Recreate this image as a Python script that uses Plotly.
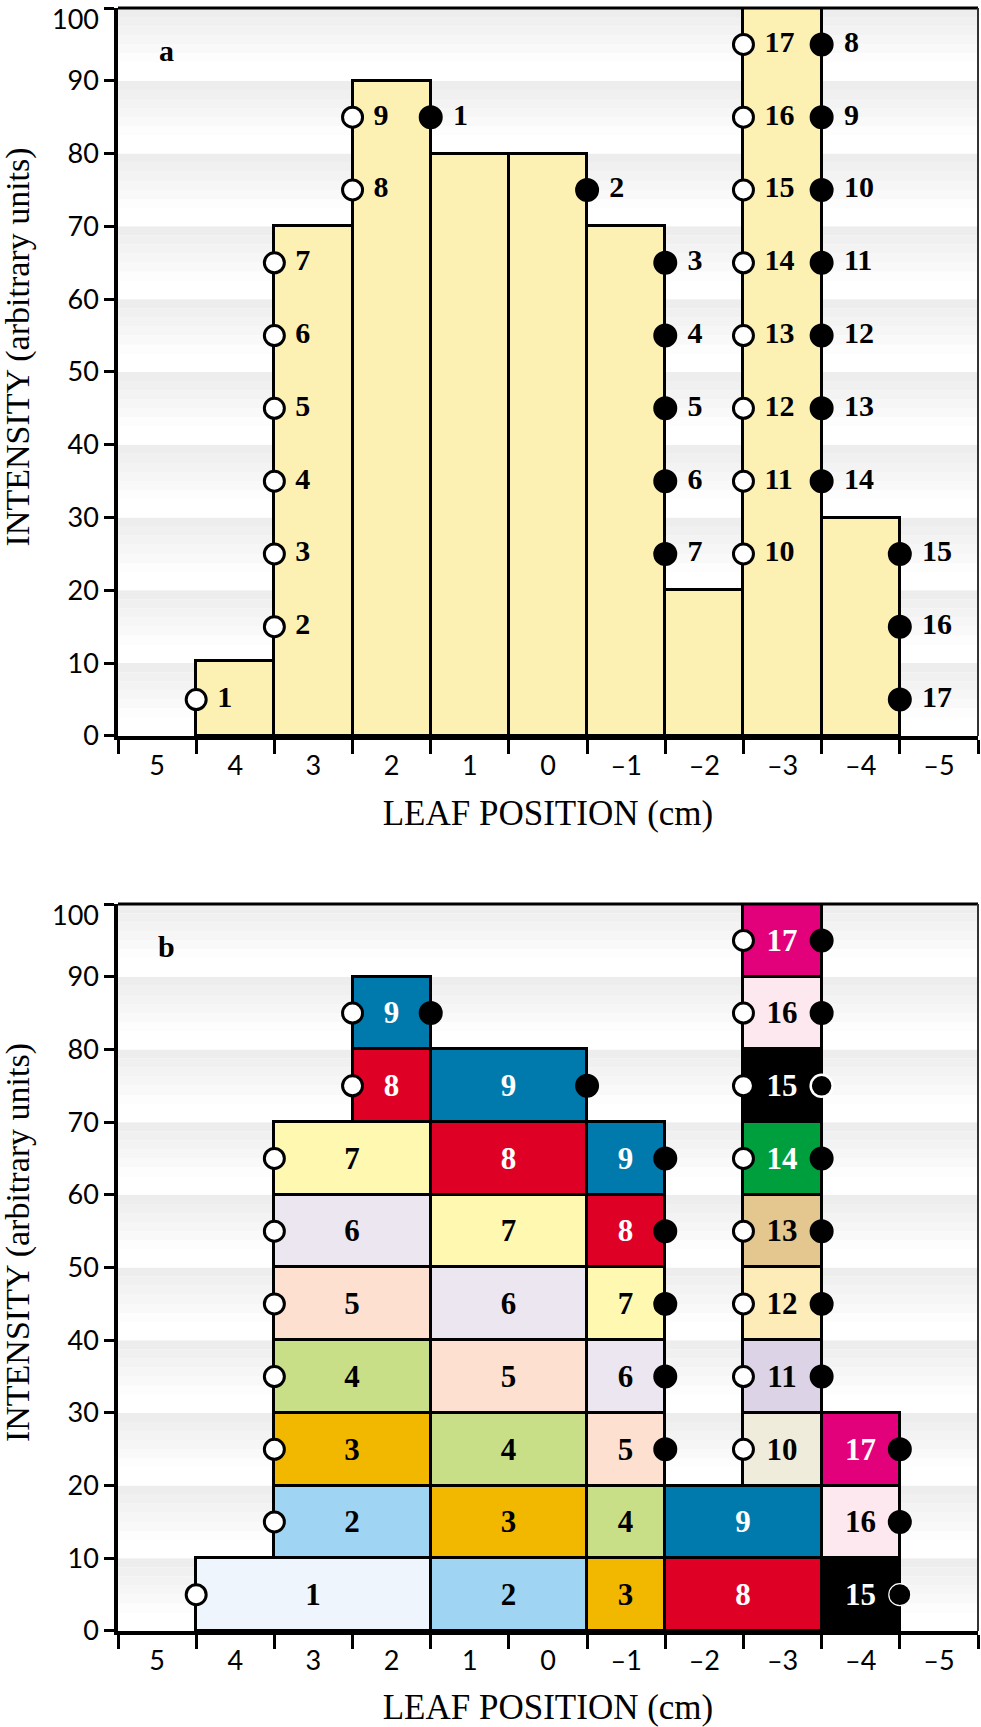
import plotly.graph_objects as go

# leaf positions (cm) and tick labels
positions = [5, 4, 3, 2, 1, 0, -1, -2, -3, -4, -5]
position_text = ["5", "4", "3", "2", "1", "0", "–1", "–2", "–3", "–4", "–5"]
leaf_edges = [5.5, 4.5, 3.5, 2.5, 1.5, 0.5, -0.5, -1.5, -2.5, -3.5, -4.5, -5.5]
intensity_ticks = [0, 10, 20, 30, 40, 50, 60, 70, 80, 90, 100]
intensity_text = ["0", "10", "20", "30", "40", "50", "60", "70", "80", "90", ""]
top_tick = 100

# panel a: intensity profile
profile_pos = [4, 3, 2, 1, 0, -1, -2, -3, -4]
profile_val = [10.3, 70, 90, 80, 80, 70, 20, 100, 30]

# leaf tip positions per segment (open = leading leaf, filled = trailing leaf)
open_x = [4.5, 3.5, 3.5, 3.5, 3.5, 3.5, 3.5, 2.5, 2.5,
          -2.5, -2.5, -2.5, -2.5, -2.5, -2.5, -2.5, -2.5]
open_y = [5, 15, 25, 35, 45, 55, 65, 75, 85, 25, 35, 45, 55, 65, 75, 85, 95]
filled_x = [1.5, -0.5, -1.5, -1.5, -1.5, -1.5, -1.5,
            -3.5, -3.5, -3.5, -3.5, -3.5, -3.5, -3.5, -4.5, -4.5, -4.5]
filled_y = [85, 75, 65, 55, 45, 35, 25, 95, 85, 75, 65, 55, 45, 35, 25, 15, 5]
segment_labels = [str(i) for i in range(1, 18)]

# panel b: segment blocks (left edge, right edge, base, segment number)
block_left = [4.5, 3.5, 3.5, 3.5, 3.5, 3.5, 3.5, 2.5, 2.5,
              1.5, 1.5, 1.5, 1.5, 1.5, 1.5, 1.5, 1.5,
              -0.5, -0.5, -0.5, -0.5, -0.5, -0.5, -0.5,
              -1.5, -1.5,
              -2.5, -2.5, -2.5, -2.5, -2.5, -2.5, -2.5, -2.5,
              -3.5, -3.5, -3.5]
block_right = [1.5, 1.5, 1.5, 1.5, 1.5, 1.5, 1.5, 1.5, 1.5,
               -0.5, -0.5, -0.5, -0.5, -0.5, -0.5, -0.5, -0.5,
               -1.5, -1.5, -1.5, -1.5, -1.5, -1.5, -1.5,
               -3.5, -3.5,
               -3.5, -3.5, -3.5, -3.5, -3.5, -3.5, -3.5, -3.5,
               -4.5, -4.5, -4.5]
block_base = [0, 10, 20, 30, 40, 50, 60, 70, 80,
              0, 10, 20, 30, 40, 50, 60, 70,
              0, 10, 20, 30, 40, 50, 60,
              0, 10,
              20, 30, 40, 50, 60, 70, 80, 90,
              0, 10, 20]
block_seg = [1, 2, 3, 4, 5, 6, 7, 8, 9,
             2, 3, 4, 5, 6, 7, 8, 9,
             3, 4, 5, 6, 7, 8, 9,
             8, 9,
             10, 11, 12, 13, 14, 15, 16, 17,
             15, 16, 17]
block_height = [10] * len(block_seg)

segment_colors = {1: "#eef5fc", 2: "#9fd5f3", 3: "#f2b800", 4: "#c8df88",
                  5: "#fde0d0", 6: "#ece6f1", 7: "#fff8b0", 8: "#df0025",
                  9: "#0079ac", 10: "#efecdb", 11: "#dcd3e7", 12: "#feecb8",
                  13: "#e3c78f", 14: "#009f3e", 15: "#000000", 16: "#fde8ef",
                  17: "#e3007b"}
white_text = [8, 9, 14, 15, 17]

SERIF = "Liberation Serif"
SANS = "Lato"

fig = go.Figure()

# panel a
label_text = ["\u00a0" + s for s in segment_labels]
fig.add_trace(go.Bar(x=profile_pos, y=profile_val, width=1,
                     marker=dict(color="#fdf0b3", line=dict(color="black", width=3)),
                     xaxis="x", yaxis="y", showlegend=False, hoverinfo="skip"))
fig.add_trace(go.Scatter(x=open_x, y=open_y, mode="markers+text", text=label_text,
                         textposition="middle right",
                         textfont=dict(family=SERIF, size=30, color="black", weight="bold"),
                         marker=dict(size=20, color="white", line=dict(color="black", width=3)),
                         xaxis="x", yaxis="y", showlegend=False, cliponaxis=False))
fig.add_trace(go.Scatter(x=filled_x, y=filled_y, mode="markers+text", text=label_text,
                         textposition="middle right",
                         textfont=dict(family=SERIF, size=30, color="black", weight="bold"),
                         marker=dict(size=22, color="black", line=dict(color="black", width=2)),
                         xaxis="x", yaxis="y", showlegend=False, cliponaxis=False))

# panel b
centers = [(l + r) / 2 for l, r in zip(block_left, block_right)]
widths = [abs(l - r) for l, r in zip(block_left, block_right)]
fig.add_trace(go.Bar(x=centers, y=block_height, base=block_base, width=widths,
                     text=[str(s) for s in block_seg], textposition="inside",
                     insidetextanchor="middle", textangle=0, constraintext="none",
                     insidetextfont=dict(family=SERIF, size=31, weight="bold",
                                         color=["white" if s in white_text else "black" for s in block_seg]),
                     marker=dict(color=[segment_colors[s] for s in block_seg],
                                 line=dict(color="black", width=3)),
                     xaxis="x2", yaxis="y2", showlegend=False, hoverinfo="skip"))
fig.add_trace(go.Scatter(x=open_x, y=open_y, mode="markers",
                         marker=dict(size=20, color="white", line=dict(color="black", width=3)),
                         xaxis="x2", yaxis="y2", showlegend=False, cliponaxis=False))
edge_col = ["white" if (x, y) in [(-3.5, 75), (-4.5, 5)] else "black"
            for x, y in zip(filled_x, filled_y)]
edge_w = [2.5 if (x, y) == (-3.5, 75) else 1.2 if (x, y) == (-4.5, 5) else 2
          for x, y in zip(filled_x, filled_y)]
fig.add_trace(go.Scatter(x=filled_x, y=filled_y, mode="markers",
                         marker=dict(size=22, color="black", line=dict(color=edge_col, width=edge_w)),
                         xaxis="x2", yaxis="y2", showlegend=False, cliponaxis=False))

# banded gradient background and thin top/right frame
shapes = []
steps = 8
for xr, yr in [("x domain", "y"), ("x2 domain", "y2")]:
    for band in range(10):
        for s in range(steps):
            g = int(237 + (255 - 237) * min(1, s / (steps * 0.7)))
            top = band * 10 + 10 - s * 10 / steps
            shapes.append(dict(type="rect", xref=xr, yref=yr, x0=0, x1=1,
                               y0=top - 10 / steps, y1=top, layer="below",
                               line=dict(width=0), fillcolor=f"rgb({g},{g},{g})"))
    shapes.append(dict(type="line", xref=xr, yref=yr + " domain",
                       x0=0, x1=1, y0=1, y1=1, line=dict(color="black", width=3)))
    shapes.append(dict(type="line", xref=xr, yref=yr + " domain",
                       x0=1, x1=1, y0=0, y1=1, line=dict(color="#333333", width=2)))

xaxis_common = dict(range=[5.5, -5.5], tickmode="array", tickvals=positions, ticktext=position_text,
                    ticks="outside", ticklen=3, tickcolor="rgba(0,0,0,0)",
                    minor=dict(tickmode="array", tickvals=leaf_edges, ticks="outside",
                               ticklen=14, tickwidth=3, tickcolor="black"),
                    showline=True, linewidth=3.5, linecolor="black", showgrid=False, zeroline=False,
                    automargin=False, ticklabeloverflow="allow",
                    tickfont=dict(family=SANS, size=27, color="black"),
                    title=dict(text="LEAF POSITION (cm)", font=dict(family=SERIF, size=35, color="black"),
                               standoff=21))
yaxis_common = dict(range=[0, 100], tickmode="array", tickvals=intensity_ticks, ticktext=intensity_text,
                    ticks="outside", ticklen=10, tickwidth=3, tickcolor="black",
                    showline=True, linewidth=3.5, linecolor="black", showgrid=False, zeroline=False,
                    automargin=False, ticklabeloverflow="allow",
                    tickfont=dict(family=SANS, size=27, color="black"))

ytitle = "INTENSITY (arbitrary units)"
annotations = []
for xr, yr, letter in [("x", "y", "a"), ("x2", "y2", "b")]:
    annotations.append(dict(x=4.88, y=94.2, xref=xr, yref=yr, text=f"<b>{letter}</b>",
                            showarrow=False, font=dict(family=SERIF, size=30, color="black")))
    annotations.append(dict(x=-0.1163, y=0.535, xref="paper", yref=yr + " domain", text=ytitle,
                            textangle=-90, showarrow=False, xanchor="center", yanchor="middle",
                            font=dict(family=SERIF, size=34, color="black")))
    # top tick label sits a little below its tick, as in the original
    annotations.append(dict(x=-0.021, y=top_tick, xref="paper", yref=yr, text=str(top_tick),
                            showarrow=False, xanchor="right", yanchor="top", yshift=7,
                            borderpad=0, font=dict(family=SANS, size=27, color="black")))

fig.update_layout(
    width=981, height=1727,
    margin=dict(l=118, r=3, t=8, b=96, autoexpand=False),
    paper_bgcolor="white", plot_bgcolor="white",
    barmode="overlay", bargap=0,
    xaxis=dict(xaxis_common, anchor="y", domain=[0, 1]),
    yaxis=dict(yaxis_common, anchor="x", domain=[0.5515, 1]),
    xaxis2=dict(xaxis_common, anchor="y2", domain=[0, 1]),
    yaxis2=dict(yaxis_common, anchor="x2", domain=[0, 0.4479]),
    shapes=shapes,
    annotations=annotations,
)

fig.write_html("out.html", config={"displayModeBar": False},
               post_script="document.body.style.margin='0';")
